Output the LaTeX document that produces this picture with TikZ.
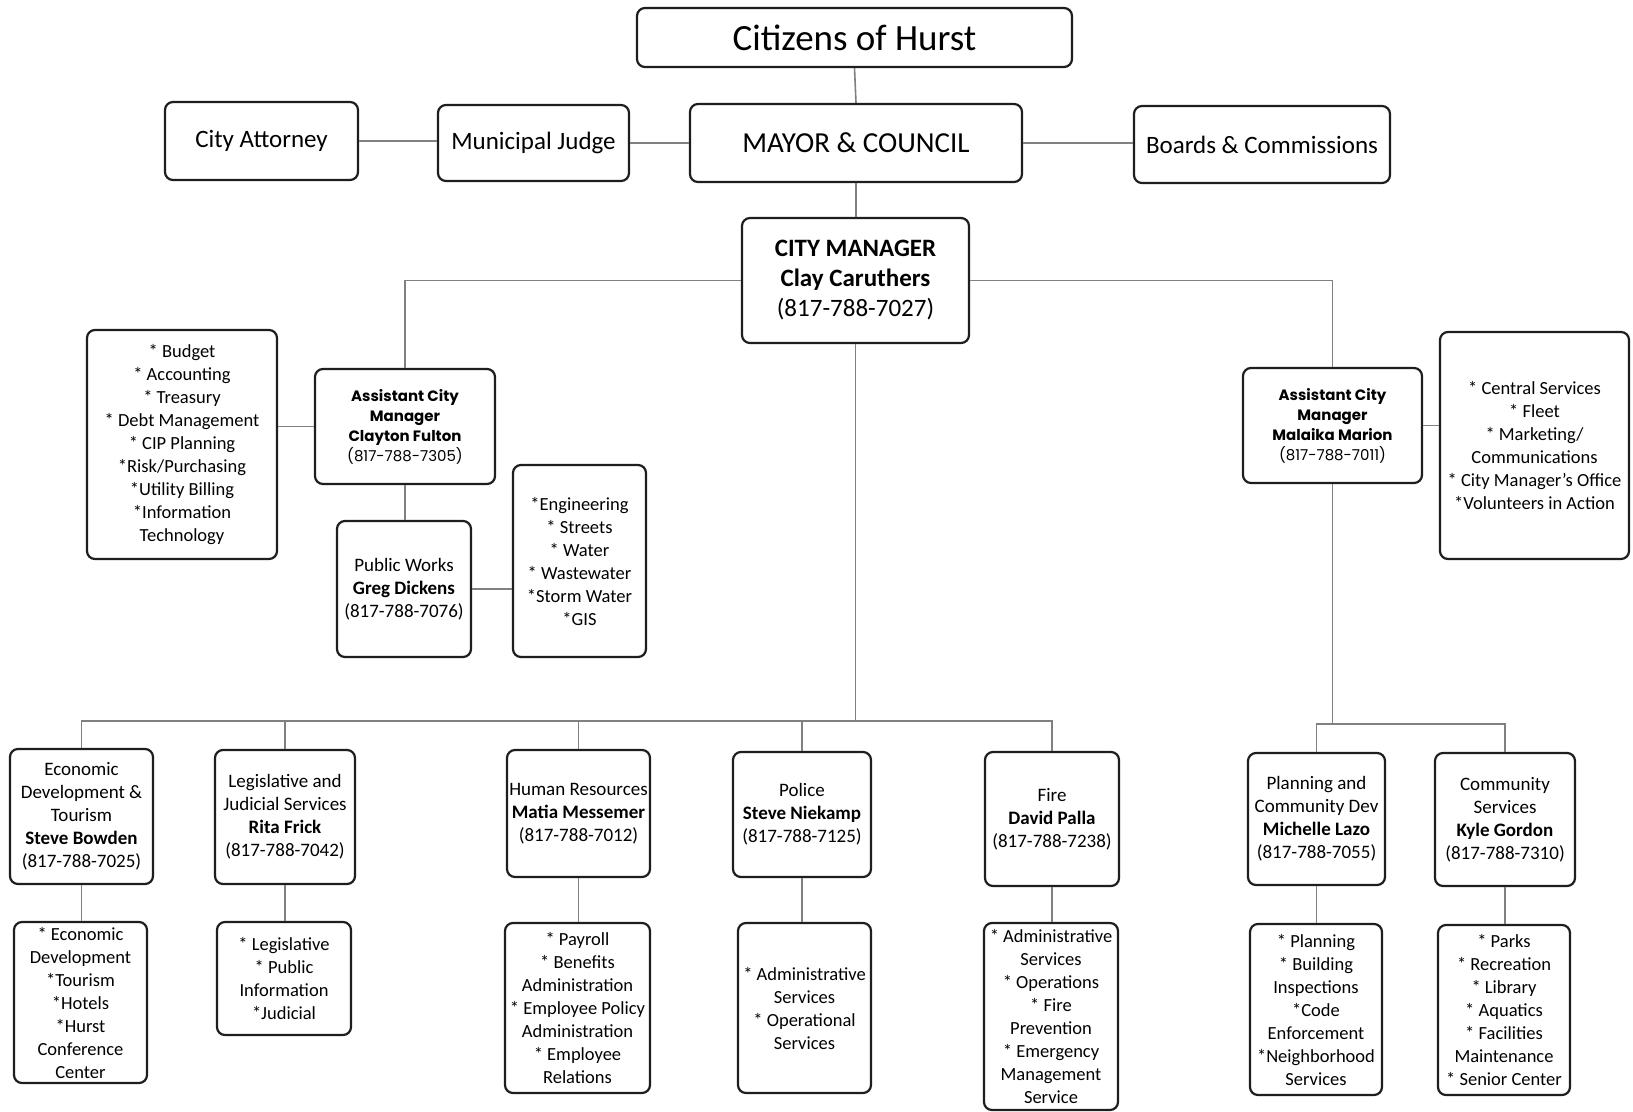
\documentclass[tikz,border=0pt]{standalone}
\usepackage{fontspec}
\setmainfont{Carlito}
\newfontfamily\geo{Poppins}
\definecolor{boxc}{HTML}{1E1E1E}
\definecolor{linec}{HTML}{808080}
\tikzset{
  box/.style={draw=boxc, line width=2.2pt, rounded corners=8pt, align=center, inner sep=1pt, fill=white},
  hd/.style={font=\fontsize{19}{23}\selectfont},
  li/.style={font=\fontsize{18.5}{23}\selectfont},
  acm/.style={font=\geo\fontsize{15}{20}\selectfont},
  conn/.style={draw=linec, line width=1.6pt},
}
\begin{document}
\begin{tikzpicture}[x=1pt,y=-1pt]
\useasboundingbox[fill=white] (0,0) rectangle (1633,1111);
% connectors first (under boxes)
\coordinate (busY) at (0,721);
\coordinate (busR) at (0,724);

% top level
\node[box, minimum width=435pt, minimum height=59pt, font=\fontsize{37}{44}\selectfont] (cit) at (854.5,37.5) {Citizens of Hurst};
\node[box, minimum width=193pt, minimum height=78pt, font=\fontsize{25}{30}\selectfont] (att) at (261.5,141) {City Attorney};
\node[box, minimum width=191pt, minimum height=76pt, font=\fontsize{25}{30}\selectfont] (judge) at (533.5,143) {Municipal Judge};
\node[box, minimum width=332pt, minimum height=78pt, font=\fontsize{29}{34}\selectfont] (mayor) at (856,143) {MAYOR \& COUNCIL};
\node[box, minimum width=256pt, minimum height=77pt, font=\fontsize{25}{30}\selectfont] (boards) at (1262,144.5) {Boards \& Commissions};
\node[box, minimum width=227pt, minimum height=125pt, font=\fontsize{25}{30}\selectfont] (cm) at (855.5,280.5) {\textbf{CITY MANAGER}\\\textbf{Clay Caruthers}\\(817-788-7027)};

% assistant city managers
\node[box, li, minimum width=190pt, minimum height=229pt] (budget) at (182,444.5) {* Budget\\* Accounting\\* Treasury\\* Debt Management\\* CIP Planning\\*Risk/Purchasing\\*Utility Billing\\*Information\\Technology};
\node[box, acm, minimum width=180pt, minimum height=115pt] (acm1) at (405,426.5) {\textbf{Assistant City}\\\textbf{Manager}\\\textbf{Clayton Fulton}\\(817-788-7305)};
\node[box, hd, minimum width=134pt, minimum height=136pt] (pw) at (404,589) {Public Works\\\textbf{Greg Dickens}\\(817-788-7076)};
\node[box, li, minimum width=133pt, minimum height=192pt] (eng) at (579.5,561) {*Engineering\\* Streets\\* Water\\* Wastewater\\*Storm Water\\*GIS};
\node[box, acm, minimum width=179pt, minimum height=115pt] (acm2) at (1332.5,425.5) {\textbf{Assistant City}\\\textbf{Manager}\\\textbf{Malaika Marion}\\(817-788-7011)};
\node[box, li, minimum width=189pt, minimum height=227pt] (central) at (1534.5,445.5) {* Central Services\\* Fleet\\* Marketing/\\Communications\\* City Manager’s Office\\*Volunteers in Action};

% departments
\node[box, hd, minimum width=143pt, minimum height=135pt] (econ) at (81.5,816.5) {Economic\\Development \&\\Tourism\\\textbf{Steve Bowden}\\(817-788-7025)};
\node[box, li, minimum width=133pt, minimum height=161pt] (econs) at (80.5,1002.5) {* Economic\\Development\\*Tourism\\*Hotels\\*Hurst\\Conference\\Center};
\node[box, hd, minimum width=140pt, minimum height=134pt] (leg) at (285,817) {Legislative and\\Judicial Services\\\textbf{Rita Frick}\\(817-788-7042)};
\node[box, li, minimum width=134pt, minimum height=113pt] (legs) at (284,978.5) {* Legislative\\* Public\\Information\\*Judicial};
\node[box, hd, minimum width=143pt, minimum height=127pt] (hr) at (578.5,813.5) {Human Resources\\\textbf{Matia Messemer}\\(817-788-7012)};
\node[box, li, minimum width=145pt, minimum height=170pt] (hrs) at (577.5,1008) {* Payroll\\* Benefits\\Administration\\* Employee Policy\\Administration\\* Employee\\Relations};
\node[box, hd, minimum width=138pt, minimum height=125pt] (pol) at (802,814.5) {Police\\\textbf{Steve Niekamp}\\(817-788-7125)};
\node[box, li, minimum width=133pt, minimum height=170pt] (pols) at (804.5,1008) {* Administrative\\Services\\* Operational\\Services};
\node[box, hd, minimum width=134pt, minimum height=134pt] (fire) at (1052,819) {Fire\\\textbf{David Palla}\\(817-788-7238)};
\node[box, li, minimum width=134pt, minimum height=187pt] (fires) at (1051,1016.5) {* Administrative\\Services\\* Operations\\* Fire\\Prevention\\* Emergency\\Management\\Service};
\node[box, hd, minimum width=137pt, minimum height=132pt] (plan) at (1316.5,819) {Planning and\\Community Dev\\\textbf{Michelle Lazo}\\(817-788-7055)};
\node[box, li, minimum width=132pt, minimum height=171pt] (plans) at (1316,1009.5) {* Planning\\* Building\\Inspections\\*Code\\Enforcement\\*Neighborhood\\Services};
\node[box, hd, minimum width=140pt, minimum height=133pt] (comm) at (1505,819.5) {Community\\Services\\\textbf{Kyle Gordon}\\(817-788-7310)};
\node[box, li, minimum width=132pt, minimum height=170pt] (comms) at (1504,1010) {* Parks\\* Recreation\\* Library\\* Aquatics\\* Facilities\\Maintenance\\* Senior Center};

% connectors
\begin{scope}[on background layer/.style={}]
\draw[conn] (cit.south) -- (mayor.north);
\draw[conn] (att.east) -- (att.east -| judge.west);
\draw[conn] (judge.east) -- (judge.east -| mayor.west);
\draw[conn] (mayor.east) -- (mayor.east -| boards.west);
\draw[conn] (mayor.south) -- (mayor.south |- cm.north);
\draw[conn] (cm.west) -| (acm1.north);
\draw[conn] (cm.east) -| (acm2.north);
\draw[conn] (acm1.west) -- (acm1.west -| budget.east);
\draw[conn] (acm1.south) -- (acm1.south |- pw.north);
\draw[conn] (pw.east) -- (pw.east -| eng.west);
\draw[conn] (acm2.east) -- (acm2.east -| central.west);
\draw[conn] (cm.south) -- (cm.south |- busY);
\draw[conn] (econ.north) -- (econ.north |- busY) -- (fire.north |- busY) -- (fire.north);
\draw[conn] (leg.north) -- (leg.north |- busY);
\draw[conn] (hr.north) -- (hr.north |- busY);
\draw[conn] (pol.north) -- (pol.north |- busY);
\draw[conn] (acm2.south) -- (acm2.south |- busR);
\draw[conn] (plan.north) -- (plan.north |- busR) -- (comm.north |- busR) -- (comm.north);
\draw[conn] (econ.south) -- (econ.south |- econs.north);
\draw[conn] (leg.south) -- (leg.south |- legs.north);
\draw[conn] (hr.south) -- (hr.south |- hrs.north);
\draw[conn] (pol.south) -- (pol.south |- pols.north);
\draw[conn] (fire.south) -- (fire.south |- fires.north);
\draw[conn] (plan.south) -- (plan.south |- plans.north);
\draw[conn] (comm.south) -- (comm.south |- comms.north);
\end{scope}
\end{tikzpicture}
\end{document}
